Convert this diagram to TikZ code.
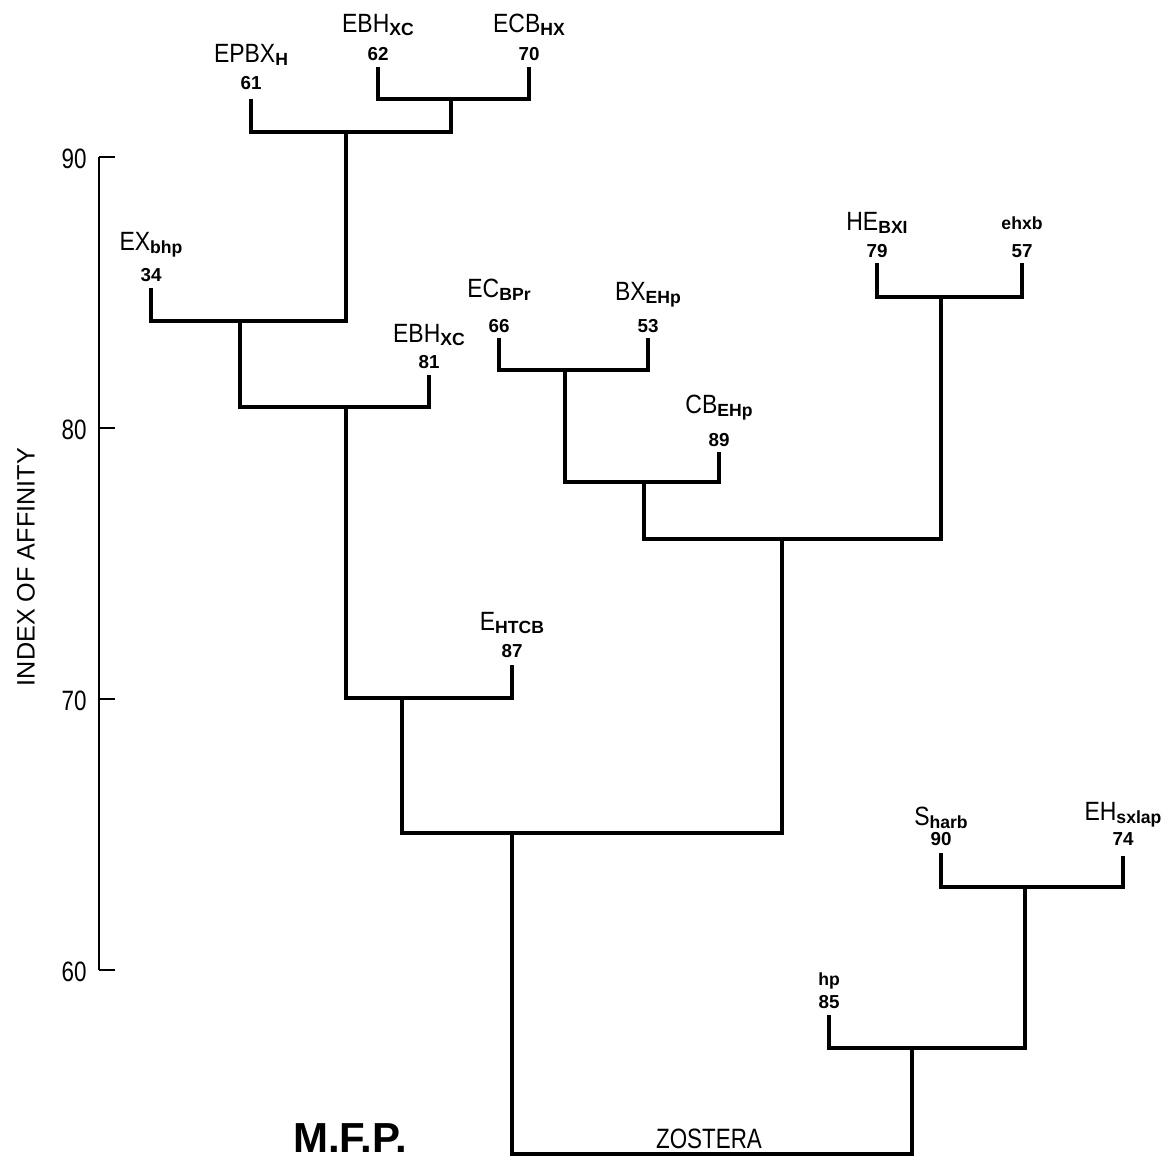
\documentclass[tikz,border=0pt]{standalone}
\usepackage{fontspec}
\setmainfont{Liberation Sans}
\newfontfamily\narrowfont{Liberation Sans}[FakeStretch=0.87]
\newfontfamily\condfont{Liberation Sans}[FakeStretch=0.8]
\usepackage{tikz}
\usetikzlibrary{positioning}
\newcommand{\idx}[1]{\rmfamily\bfseries\fontsize{8.8}{10}\selectfont #1}
\newcommand{\low}[1]{\raisebox{-1.5pt}{\idx{#1}}}
\tikzset{
  tree/.style={line width=1.6pt},
  axisline/.style={line width=0.8pt},
  lab/.style={anchor=base,inner sep=0pt,font=\narrowfont\fontsize{13.2}{14}\selectfont},
  num/.style={anchor=base,inner sep=0pt,font=\bfseries\fontsize{9.4}{10}\selectfont},
  ticklab/.style={anchor=east,inner sep=0pt,font=\condfont\fontsize{14}{15}\selectfont},
}

\begin{document}
\begin{tikzpicture}[x=0.5pt,y=-0.5pt]
\useasboundingbox (0,0) rectangle (1171,1164);
\foreach \v in {60,70,80,90} {
  \coordinate (t\v) at (99,{970-27.1*(\v-60)});
  \draw[axisline] (t\v) -- ++(16,0);
  \node[ticklab] (v\v) at ([xshift=-6pt,yshift=-1pt]t\v) {\v};
}
\draw[axisline] (t60) -- (t90);
\node[rotate=90,inner sep=0pt,font=\fontsize{12.6}{13}\selectfont] (ylab) at (26,567) {INDEX OF AFFINITY};
\foreach \n/\x/\yt/\yn/\yl/\lbl in {
  61/251/99/89/62/EPBX\low{H},
  62/378/67/60/32/EBH\low{XC},
  70/529/67/60/32/ECB\low{HX},
  34/151/288/281/250/EX\low{bhp},
  81/429/375/368/342/EBH\low{XC},
  66/499/338/332/297/EC\low{BPr},
  53/648/338/332/300/BX\low{EHp},
  89/719/452/446/413/CB\low{EHp},
  79/877/263/257/230/HE\low{BXI},
  57/1022/263/257/229/{\idx{ehxb}},
  87/512/665/657/630/E\low{HTCB},
  90/941/853/845/825/S\low{harb},
  74/1123/856/845/820/EH\low{sxlap},
  85/829/1015/1008/985/{\idx{hp}}} {
  \coordinate (s\n) at (\x,\yt);
  \node[num] (n\n) at (\x,\yn) {\n};
  \node[lab] (l\n) at (\x,\yl) {\lbl};
}
\coordinate (c1) at (451,99);
\coordinate (c2) at (346,132);
\coordinate (c3) at (240,321);
\coordinate (c4) at (346,407);
\coordinate (c5) at (402,698);
\coordinate (c6) at (565,370);
\coordinate (c7) at (644,482);
\coordinate (c8) at (941,297);
\coordinate (c9) at (782,539);
\coordinate (c10) at (512,833);
\coordinate (c11) at (1025,887);
\coordinate (c12) at (912,1048);
\coordinate (c13) at (709,1154);
\foreach \a/\c/\b in {s62/c1/s70,s61/c2/c1,s34/c3/c2,c3/c4/s81,c4/c5/s87,s66/c6/s53,c6/c7/s89,s79/c8/s57,c7/c9/c8,c5/c10/c9,s90/c11/s74,s85/c12/c11,c10/c13/c12}
  \draw[tree] (\a) |- (\c) -| (\b);
\node[anchor=base,inner sep=0pt,font=\condfont\fontsize{14}{15}\selectfont] (zost) at (709,1148) {ZOSTERA};
\node[anchor=base,inner sep=0pt,font=\bfseries\fontsize{21}{23}\selectfont] (mfp) at (350,1152) {M.F.P.};
\end{tikzpicture}
\end{document}
